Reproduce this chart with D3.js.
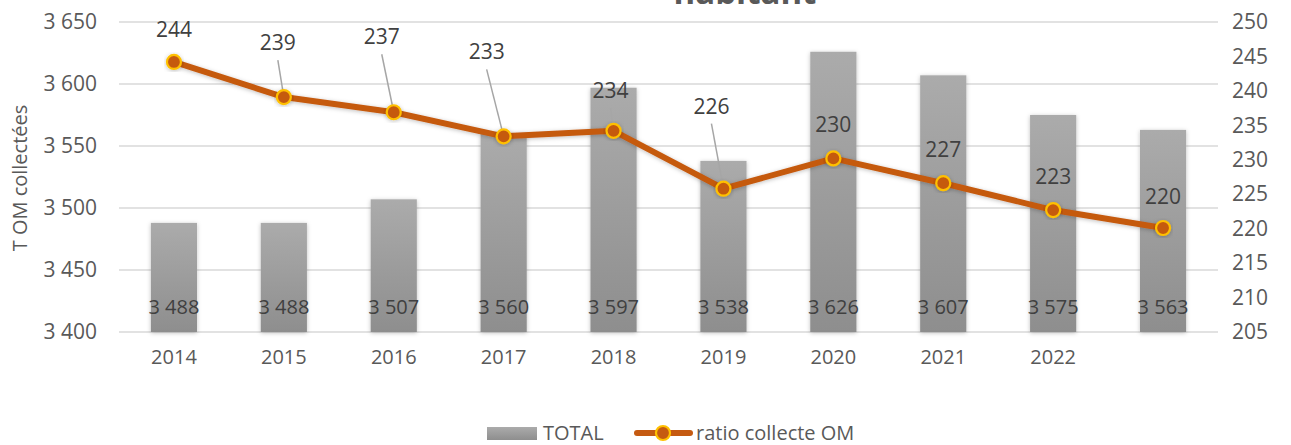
<!DOCTYPE html>
<html><head><meta charset="utf-8">
<script src="https://cdn.jsdelivr.net/npm/d3@7"></script>
<style>body{margin:0;background:#fff;} svg{display:block;font-family:"Open Sans",sans-serif;}</style>
</head><body><svg id="c" width="1291" height="445"></svg>
<script>
const categories = ["2014","2015","2016","2017","2018","2019","2020","2021","2022","2023"];
const tickLabels = ["2014","2015","2016","2017","2018","2019","2020","2021","2022",""];
const totalValues = [3488,3488,3507,3560,3597,3538,3626,3607,3575,3563];
const ratioValues = [244.2,239.1,236.9,233.4,234.2,225.8,230.2,226.6,222.7,220.1];
const leftTicks = [3400,3450,3500,3550,3600,3650];
const rightTicks = [205,210,215,220,225,230,235,240,245,250];
// label offsets (layout), relative to the marker
const labelOffsets = [[0,-32,false],[-6,-54,true],[-12,-75,true],[-17,-84,true],[-3,-40,true],[-12,-82,true],[0,-33,false],[0,-33,false],[0,-33,false],[0,-31,false]];

const svg = d3.select("#c");
const plotTop=22, plotBottom=332;
const x = d3.scaleBand().domain(categories).range([119,1218]).paddingInner(0.58).paddingOuter(0.29);
const yL = d3.scaleLinear().domain([3400,3650]).range([plotBottom,plotTop]);
const yR = d3.scaleLinear().domain([205,250]).range([plotBottom,plotTop]);
const cx = c => x(c)+x.bandwidth()/2;
const idx = d3.range(categories.length);

const defs = svg.append("defs");
const g = defs.append("linearGradient").attr("id","bg").attr("x1",0).attr("y1",0).attr("x2",0).attr("y2",1);
g.append("stop").attr("offset","0%").attr("stop-color","#ababab");
g.append("stop").attr("offset","100%").attr("stop-color","#8e8e8e");
const f = defs.append("filter").attr("id","sh").attr("x","-20%").attr("y","-20%").attr("width","140%").attr("height","140%");
f.append("feDropShadow").attr("dx",0).attr("dy",1).attr("stdDeviation",2).attr("flood-color","#000").attr("flood-opacity",0.25);

// title (partially cut off, as in the reference)
svg.append("text").attr("x",745).attr("y",4).attr("text-anchor","middle")
  .attr("font-size",33).attr("font-weight","bold").attr("fill","#595959").text("habitant");

// gridlines
svg.append("g").selectAll("line").data(leftTicks).join("line")
  .attr("x1",119).attr("x2",1218).attr("y1",d=>yL(d)).attr("y2",d=>yL(d))
  .attr("stroke","#d9d9d9").attr("stroke-width",1.5);

// left axis
const axL = svg.append("g").attr("transform","translate(119,0)")
  .call(d3.axisLeft(yL).tickValues(leftTicks).tickSize(0).tickPadding(22).tickFormat(d=>d3.format(",")(d).replace(","," ")));
axL.select(".domain").remove();
axL.selectAll("text").attr("font-size",21).attr("fill","#595959").attr("font-family","Open Sans");

// right axis
const axR = svg.append("g").attr("transform","translate(1218,0)")
  .call(d3.axisRight(yR).tickValues(rightTicks).tickSize(0).tickPadding(14));
axR.select(".domain").remove();
axR.selectAll("text").attr("font-size",21).attr("fill","#595959").attr("font-family","Open Sans");

// x axis
const axX = svg.append("g").attr("transform",`translate(0,${plotBottom})`)
  .call(d3.axisBottom(x).tickSize(0).tickPadding(18).tickFormat((d,i)=>tickLabels[i]));
axX.select(".domain").remove();
axX.selectAll("text").attr("font-size",20).attr("fill","#595959").attr("font-family","Open Sans");

// y title
svg.append("text").attr("transform","translate(27,178) rotate(-90)").attr("text-anchor","middle")
  .attr("font-size",20).attr("fill","#595959").text("T OM collectées");

// bars
svg.append("g").selectAll("rect").data(idx).join("rect")
  .attr("x",i=>x(categories[i])).attr("width",x.bandwidth())
  .attr("y",i=>yL(totalValues[i])).attr("height",i=>plotBottom-yL(totalValues[i]))
  .attr("fill","url(#bg)").attr("filter","url(#sh)");

// bar labels
svg.append("g").selectAll("text").data(idx).join("text")
  .attr("x",i=>cx(categories[i])).attr("y",314).attr("text-anchor","middle")
  .attr("font-size",20).attr("fill","#404040").text(i=>d3.format(",")(totalValues[i]).replace(","," "));

// line
const line = d3.line().x((d,i)=>cx(categories[i])).y(d=>yR(d));
svg.append("path").datum(ratioValues).attr("d",line).attr("fill","none")
  .attr("stroke","#c55a11").attr("stroke-width",6).attr("stroke-linejoin","round").attr("filter","url(#sh)");

// leader lines
svg.append("g").selectAll("line").data(idx.filter(i=>labelOffsets[i][2])).join("line")
  .attr("x1",i=>cx(categories[i])).attr("y1",i=>yR(ratioValues[i]))
  .attr("x2",i=>cx(categories[i])+labelOffsets[i][0])
  .attr("y2",i=>yR(ratioValues[i])+labelOffsets[i][1]+17)
  .attr("stroke","#a6a6a6").attr("stroke-width",1.5);

// markers
svg.append("g").selectAll("circle").data(idx).join("circle")
  .attr("cx",i=>cx(categories[i])).attr("cy",i=>yR(ratioValues[i])).attr("r",7)
  .attr("fill","#c55a11").attr("stroke","#ffc000").attr("stroke-width",2.2).attr("filter","url(#sh)");

// line labels
svg.append("g").selectAll("text").data(idx).join("text")
  .attr("x",i=>cx(categories[i])+labelOffsets[i][0])
  .attr("y",i=>yR(ratioValues[i])+labelOffsets[i][1]+7).attr("text-anchor","middle")
  .attr("font-size",21).attr("fill","#404040").text(i=>Math.round(ratioValues[i]));

// legend
const lg = svg.append("g");
lg.append("rect").attr("x",487).attr("y",427).attr("width",50).attr("height",13).attr("fill","url(#bg)");
lg.append("text").attr("x",543).attr("y",440).attr("font-size",20).attr("fill","#595959").text("TOTAL");
lg.append("line").attr("x1",637).attr("x2",690).attr("y1",433).attr("y2",433).attr("stroke","#c55a11").attr("stroke-width",6).attr("stroke-linecap","round");
lg.append("circle").attr("cx",663).attr("cy",433).attr("r",7).attr("fill","#c55a11").attr("stroke","#ffc000").attr("stroke-width",2.2);
lg.append("text").attr("x",696).attr("y",440).attr("font-size",20).attr("fill","#595959").text("ratio collecte OM");
</script></body></html>
